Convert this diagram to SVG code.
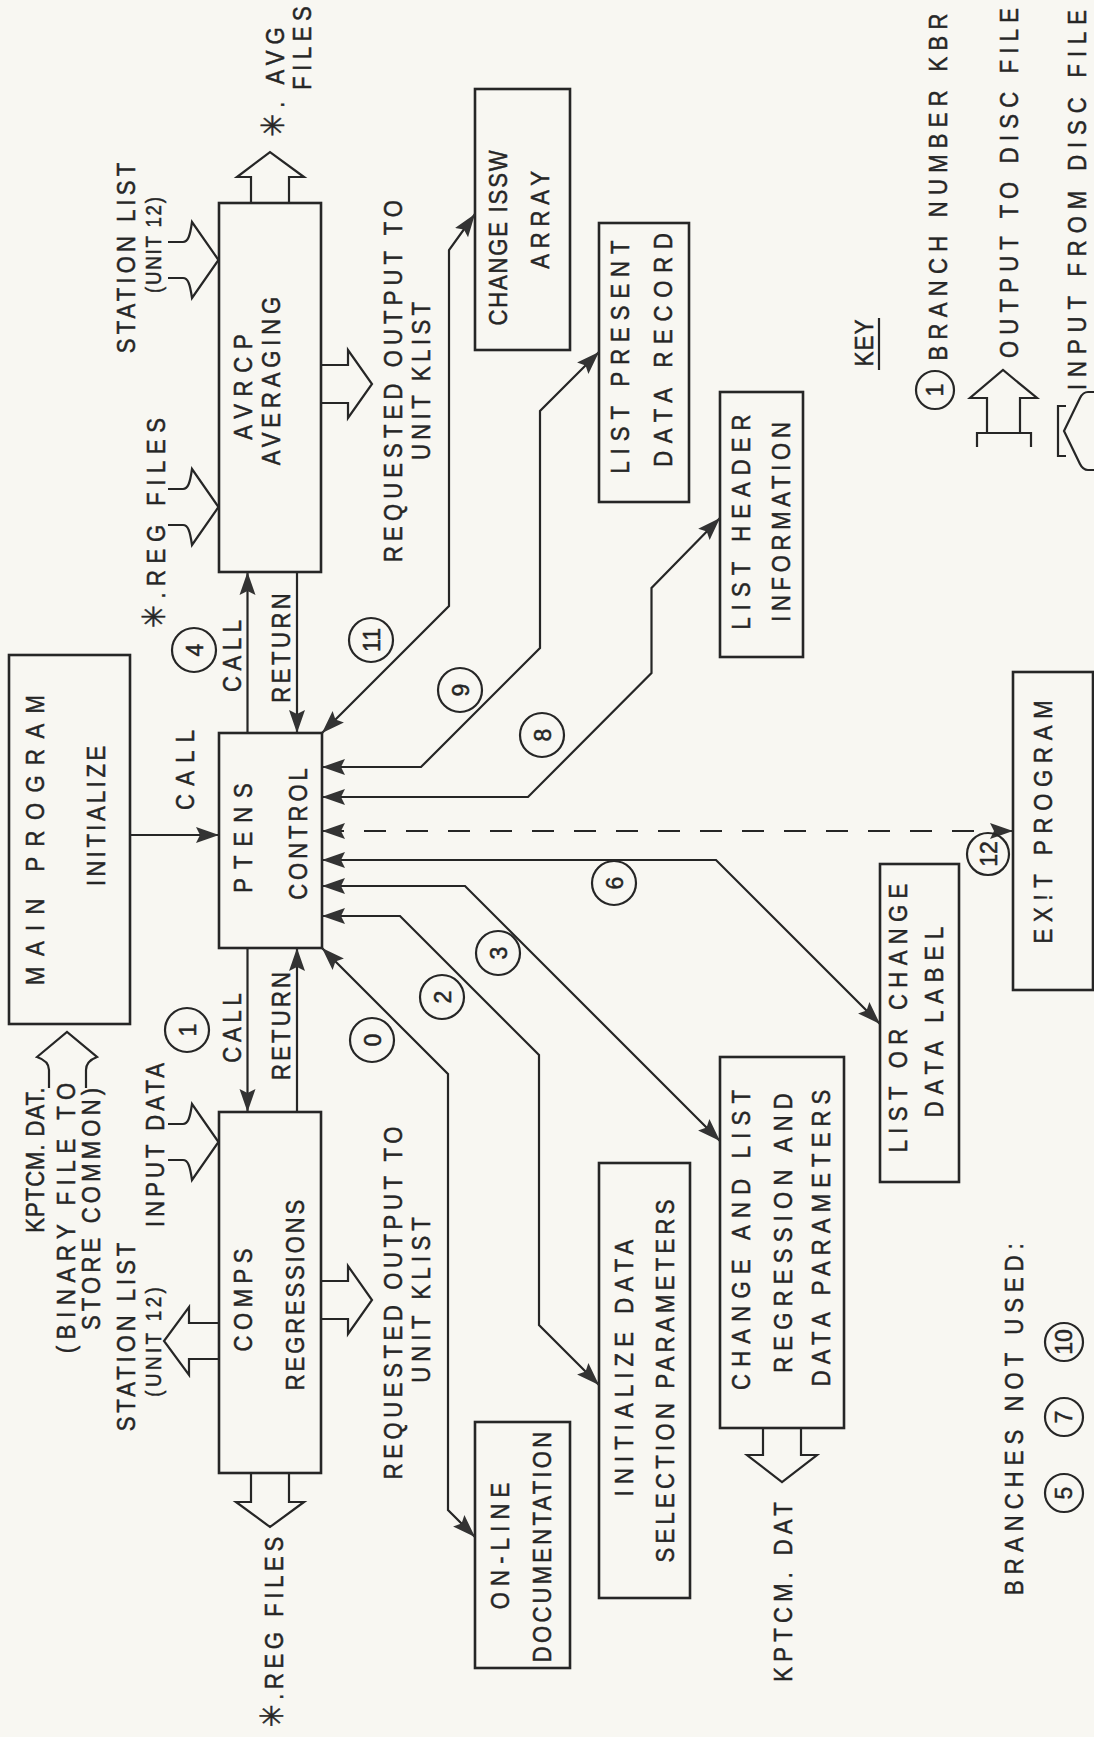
<svg xmlns="http://www.w3.org/2000/svg" width="1094" height="1737" viewBox="0 0 1094 1737">
<defs>
<marker id="ah" markerUnits="userSpaceOnUse" markerWidth="24" markerHeight="18" viewBox="0 0 24 18" refX="23" refY="9" orient="auto-start-reverse"><path d="M0,1 L23,9 L0,17 L4,9 z" fill="#333"/></marker>
<style>
.t{font-family:"Liberation Sans","DejaVu Sans",Arial,sans-serif;font-size:26px;fill:#262626;stroke:#262626;stroke-width:0.5;text-anchor:middle}
.s{font-size:22px}
.n{font-size:23px}
.ast{font-family:"DejaVu Sans",sans-serif;font-size:32px}
.box{fill:none;stroke:#262626;stroke-width:2.6}
.ln{fill:none;stroke:#262626;stroke-width:2.2}
.arr{marker-end:url(#ah)}
.dbl{marker-start:url(#ah);marker-end:url(#ah)}
.dash{stroke-dasharray:22 20}
.cir{fill:none;stroke:#262626;stroke-width:2.2}
</style>
</defs>
<rect width="1094" height="1737" fill="#f8f7f2"/>

<g id="main">
<rect class="box" x="9" y="655" width="121" height="369"/>
<text class="t" transform="translate(44,840) rotate(-90) scale(0.85,1)" textLength="341" lengthAdjust="spacing">MAIN PROGRAM</text>
<text class="t" transform="translate(105,816) rotate(-90) scale(0.85,1)" textLength="165" lengthAdjust="spacing">INITIALIZE</text>
</g>
<g id="ptens">
<rect class="box" x="219" y="733" width="103" height="215"/>
<text class="t" transform="translate(252,838) rotate(-90) scale(0.85,1)" textLength="129" lengthAdjust="spacing">PTENS</text>
<text class="t" transform="translate(307,834) rotate(-90) scale(0.85,1)" textLength="155" lengthAdjust="spacing">CONTROL</text>
</g>
<g id="avrcp">
<rect class="box" x="219" y="203" width="102" height="369"/>
<text class="t" transform="translate(252,387) rotate(-90) scale(0.85,1)" textLength="124" lengthAdjust="spacing">AVRCP</text>
<text class="t" transform="translate(280,381) rotate(-90) scale(0.85,1)" textLength="198" lengthAdjust="spacing">AVERAGING</text>
</g>
<g id="comps">
<rect class="box" x="219" y="1112" width="102" height="361"/>
<text class="t" transform="translate(252,1300) rotate(-90) scale(0.85,1)" textLength="121" lengthAdjust="spacing">COMPS</text>
<text class="t" transform="translate(304,1295) rotate(-90) scale(0.85,1)" textLength="224" lengthAdjust="spacing">REGRESSIONS</text>
</g>
<g id="change-issw">
<rect class="box" x="475" y="89" width="95" height="261"/>
<text class="t" transform="translate(507,238) rotate(-90) scale(0.85,1)" textLength="206" lengthAdjust="spacing">CHANGE ISSW</text>
<text class="t" transform="translate(549,220) rotate(-90) scale(0.85,1)" textLength="115" lengthAdjust="spacing">ARRAY</text>
</g>
<g id="list-present">
<rect class="box" x="599" y="223" width="90" height="279"/>
<text class="t" transform="translate(629,357) rotate(-90) scale(0.85,1)" textLength="274" lengthAdjust="spacing">LIST PRESENT</text>
<text class="t" transform="translate(672,350) rotate(-90) scale(0.85,1)" textLength="275" lengthAdjust="spacing">DATA RECORD</text>
</g>
<g id="list-header">
<rect class="box" x="720" y="392" width="83" height="265"/>
<text class="t" transform="translate(750,522) rotate(-90) scale(0.85,1)" textLength="253" lengthAdjust="spacing">LIST HEADER</text>
<text class="t" transform="translate(790,522) rotate(-90) scale(0.85,1)" textLength="235" lengthAdjust="spacing">INFORMATION</text>
</g>
<g id="exit">
<rect class="box" x="1013" y="672" width="80" height="318"/>
<text class="t" transform="translate(1052,822) rotate(-90) scale(0.85,1)" textLength="286" lengthAdjust="spacing">EX!T PROGRAM</text>
</g>
<g id="list-change-label">
<rect class="box" x="880" y="864" width="79" height="318"/>
<text class="t" transform="translate(907,1018) rotate(-90) scale(0.85,1)" textLength="316" lengthAdjust="spacing">LIST OR CHANGE</text>
<text class="t" transform="translate(943,1022) rotate(-90) scale(0.85,1)" textLength="224" lengthAdjust="spacing">DATA LABEL</text>
</g>
<g id="change-list-params">
<rect class="box" x="720" y="1057" width="124" height="371"/>
<text class="t" transform="translate(750,1240) rotate(-90) scale(0.85,1)" textLength="353" lengthAdjust="spacing">CHANGE AND LIST</text>
<text class="t" transform="translate(792,1233) rotate(-90) scale(0.85,1)" textLength="329" lengthAdjust="spacing">REGRESSION AND</text>
<text class="t" transform="translate(830,1238) rotate(-90) scale(0.85,1)" textLength="349" lengthAdjust="spacing">DATA PARAMETERS</text>
</g>
<g id="init-data">
<rect class="box" x="599" y="1163" width="91" height="435"/>
<text class="t" transform="translate(633,1368) rotate(-90) scale(0.85,1)" textLength="302" lengthAdjust="spacing">INITIALIZE DATA</text>
<text class="t" transform="translate(674,1381) rotate(-90) scale(0.85,1)" textLength="427" lengthAdjust="spacing">SELECTION PARAMETERS</text>
</g>
<g id="online-doc">
<rect class="box" x="475" y="1422" width="95" height="246"/>
<text class="t" transform="translate(509,1546) rotate(-90) scale(0.85,1)" textLength="149" lengthAdjust="spacing">ON-LINE</text>
<text class="t" transform="translate(551,1547) rotate(-90) scale(0.85,1)" textLength="271" lengthAdjust="spacing">DOCUMENTATION</text>
</g>

<g id="files">
<path class="ln" d="M251,203 V177 H237 L270,152 L304,177 H289 V203"/>
<text class="t" transform="translate(284,82) rotate(-90) scale(0.85,1)" textLength="129" lengthAdjust="spacing"><tspan class="ast">✳</tspan>. AVG</text>
<text class="t" transform="translate(311,48) rotate(-90) scale(0.85,1)" textLength="98" lengthAdjust="spacing">FILES</text>
<path class="ln" d="M168,242 H183 C188,242 190,236 192,222 L218.5,260 L192,298 C190,284 188,278 183,278 H168"/>
<text class="t" transform="translate(135,258) rotate(-90) scale(0.85,1)" textLength="224" lengthAdjust="spacing">STATION LIST</text>
<text class="t s" transform="translate(161,245) rotate(-90) scale(0.85,1)" textLength="113" lengthAdjust="spacing">(UNIT 12)</text>
<path class="ln" d="M168,489 H183 C188,489 190,483 192,469 L218.5,507 L192,545 C190,531 188,525 183,525 H168"/>
<text class="t" transform="translate(165,523) rotate(-90) scale(0.85,1)" textLength="247" lengthAdjust="spacing"><tspan class="ast">✳</tspan>.REG FILES</text>
<path class="ln" d="M321,365 H348 V350 L372,384 L348,418 V403 H321"/>
<text class="t" transform="translate(402,381) rotate(-90) scale(0.85,1)" textLength="426" lengthAdjust="spacing">REQUESTED OUTPUT TO</text>
<text class="t" transform="translate(430,381) rotate(-90) scale(0.85,1)" textLength="186" lengthAdjust="spacing">UNIT KLIST</text>
<path class="ln" d="M49,1088 V1070 C49,1064 46,1060 37,1057 L67,1032 L97,1057 C89,1060 86,1064 86,1070 V1088"/>
<text class="t" transform="translate(44,1160) rotate(-90) scale(0.85,1)" textLength="171" lengthAdjust="spacing">KPTCM. DAT.</text>
<text class="t" transform="translate(75,1218) rotate(-90) scale(0.85,1)" textLength="318" lengthAdjust="spacing">(BINARY FILE TO</text>
<text class="t" transform="translate(100,1209) rotate(-90) scale(0.85,1)" textLength="285" lengthAdjust="spacing">STORE COMMON)</text>
<path class="ln" d="M168,1124 H183 C188,1124 190,1118 192,1104 L218.5,1142 L192,1180 C190,1166 188,1160 183,1160 H168"/>
<text class="t" transform="translate(164,1145) rotate(-90) scale(0.85,1)" textLength="193" lengthAdjust="spacing">INPUT DATA</text>
<path class="ln" d="M219,1323 H189 V1307 L164,1341 L189,1375 V1359 H219"/>
<text class="t" transform="translate(135,1337) rotate(-90) scale(0.85,1)" textLength="222" lengthAdjust="spacing">STATION LIST</text>
<text class="t s" transform="translate(161,1342) rotate(-90) scale(0.85,1)" textLength="129" lengthAdjust="spacing">(UNIT 12)</text>
<path class="ln" d="M321,1281 H348 V1266 L372,1300 L348,1334 V1319 H321"/>
<text class="t" transform="translate(402,1303) rotate(-90) scale(0.85,1)" textLength="415" lengthAdjust="spacing">REQUESTED OUTPUT TO</text>
<text class="t" transform="translate(430,1300) rotate(-90) scale(0.85,1)" textLength="195" lengthAdjust="spacing">UNIT KLIST</text>
<path class="ln" d="M251,1473 V1502 H236 L270,1527 L304,1502 H289 V1473"/>
<text class="t" transform="translate(283,1632) rotate(-90) scale(0.85,1)" textLength="224" lengthAdjust="spacing"><tspan class="ast">✳</tspan>.REG FILES</text>
<path class="ln" d="M763,1428 V1455 H747 L782,1482 L817,1455 H801 V1428"/>
<text class="t" transform="translate(792,1592) rotate(-90) scale(0.85,1)" textLength="211" lengthAdjust="spacing">KPTCM. DAT</text>
</g>

<g id="connectors">
<path class="ln arr" d="M130,835 H219"/>
<path class="ln arr" d="M247.5,733 V572"/>
<path class="ln arr" d="M297,572 V733"/>
<path class="ln arr" d="M247.5,948 V1112"/>
<path class="ln arr" d="M297,1112 V948"/>
<path class="ln dbl" d="M475,214 L449,250 V606 L322,733"/>
<path class="ln dbl" d="M599,352 L540,411 V648 L421,767 H322"/>
<path class="ln dbl" d="M720,518 L651.5,588 V673 L528,797 H322"/>
<path class="ln dbl dash" d="M322,831 H1013"/>
<path class="ln dbl" d="M322,860 H716 L880,1024"/>
<path class="ln dbl" d="M322,886 H465 L720,1141"/>
<path class="ln dbl" d="M322,916 H400 L539,1055 V1325 L599,1385"/>
<path class="ln dbl" d="M322,948 L448,1074 V1510 L475,1537"/>
</g>

<g id="branch-labels">
<text class="t" transform="translate(241,656) rotate(-90) scale(0.85,1)" textLength="85" lengthAdjust="spacing">CALL</text>
<text class="t" transform="translate(290,648) rotate(-90) scale(0.85,1)" textLength="129" lengthAdjust="spacing">RETURN</text>
<text class="t" transform="translate(194,770) rotate(-90) scale(0.85,1)" textLength="94" lengthAdjust="spacing">CALL</text>
<text class="t" transform="translate(241,1028) rotate(-90) scale(0.85,1)" textLength="82" lengthAdjust="spacing">CALL</text>
<text class="t" transform="translate(290,1026) rotate(-90) scale(0.85,1)" textLength="127" lengthAdjust="spacing">RETURN</text>
<circle class="cir" cx="194" cy="650" r="22"/><text class="t n" transform="translate(202.5,650) rotate(-90)">4</text>
<circle class="cir" cx="371" cy="640" r="22"/><text class="t n" transform="translate(379.5,640) rotate(-90)">11</text>
<circle class="cir" cx="460" cy="690" r="22"/><text class="t n" transform="translate(468.5,690) rotate(-90)">9</text>
<circle class="cir" cx="542" cy="735" r="22"/><text class="t n" transform="translate(550.5,735) rotate(-90)">8</text>
<circle class="cir" cx="614" cy="883" r="22"/><text class="t n" transform="translate(622.5,883) rotate(-90)">6</text>
<circle class="cir" cx="498" cy="953" r="22"/><text class="t n" transform="translate(506.5,953) rotate(-90)">3</text>
<circle class="cir" cx="442" cy="997" r="22"/><text class="t n" transform="translate(450.5,997) rotate(-90)">2</text>
<circle class="cir" cx="372" cy="1040" r="22"/><text class="t n" transform="translate(380.5,1040) rotate(-90)">0</text>
<circle class="cir" cx="187" cy="1030" r="22"/><text class="t n" transform="translate(195.5,1030) rotate(-90)">1</text>
<circle class="cir" cx="988" cy="854" r="21"/><text class="t n" transform="translate(996.5,854) rotate(-90)">12</text>
</g>

<g id="unused">
<text class="t" transform="translate(1023,1419) rotate(-90) scale(0.85,1)" textLength="414" lengthAdjust="spacing">BRANCHES NOT USED:</text>
<circle class="cir" cx="1064" cy="1493" r="19"/><text class="t n" transform="translate(1072,1493) rotate(-90)">5</text>
<circle class="cir" cx="1064" cy="1417" r="19"/><text class="t n" transform="translate(1072,1417) rotate(-90)">7</text>
<circle class="cir" cx="1064" cy="1342" r="19"/><text class="t n" transform="translate(1072,1342) rotate(-90)">10</text>
</g>

<g id="key">
<text class="t" transform="translate(873,343) rotate(-90) scale(0.85,1)" textLength="55" lengthAdjust="spacing">KEY</text>
<line class="ln" x1="879" y1="318" x2="879" y2="370"/>
<circle class="cir" cx="935" cy="390" r="19"/><text class="t n" transform="translate(943,390) rotate(-90)">1</text>
<text class="t" transform="translate(947,187) rotate(-90) scale(0.85,1)" textLength="408" lengthAdjust="spacing">BRANCH NUMBER KBR</text>
<path class="ln" d="M987,433 V398 H970 L1003,370 L1037,398 H1020 V433"/>
<path class="ln" d="M977,447 V433 H1031 V447"/>
<text class="t" transform="translate(1018,183) rotate(-90) scale(0.85,1)" textLength="412" lengthAdjust="spacing">OUTPUT TO DISC FILE</text>
<path class="ln" d="M1066,406 H1058 V456 H1066"/>
<path class="ln" d="M1094,392 H1088 Q1083,392 1080,398 L1064,431 L1080,464 Q1083,470 1088,470 H1094"/>
<text class="t" transform="translate(1086,200) rotate(-90) scale(0.85,1)" textLength="447" lengthAdjust="spacing">INPUT FROM DISC FILE</text>
</g>
</svg>
